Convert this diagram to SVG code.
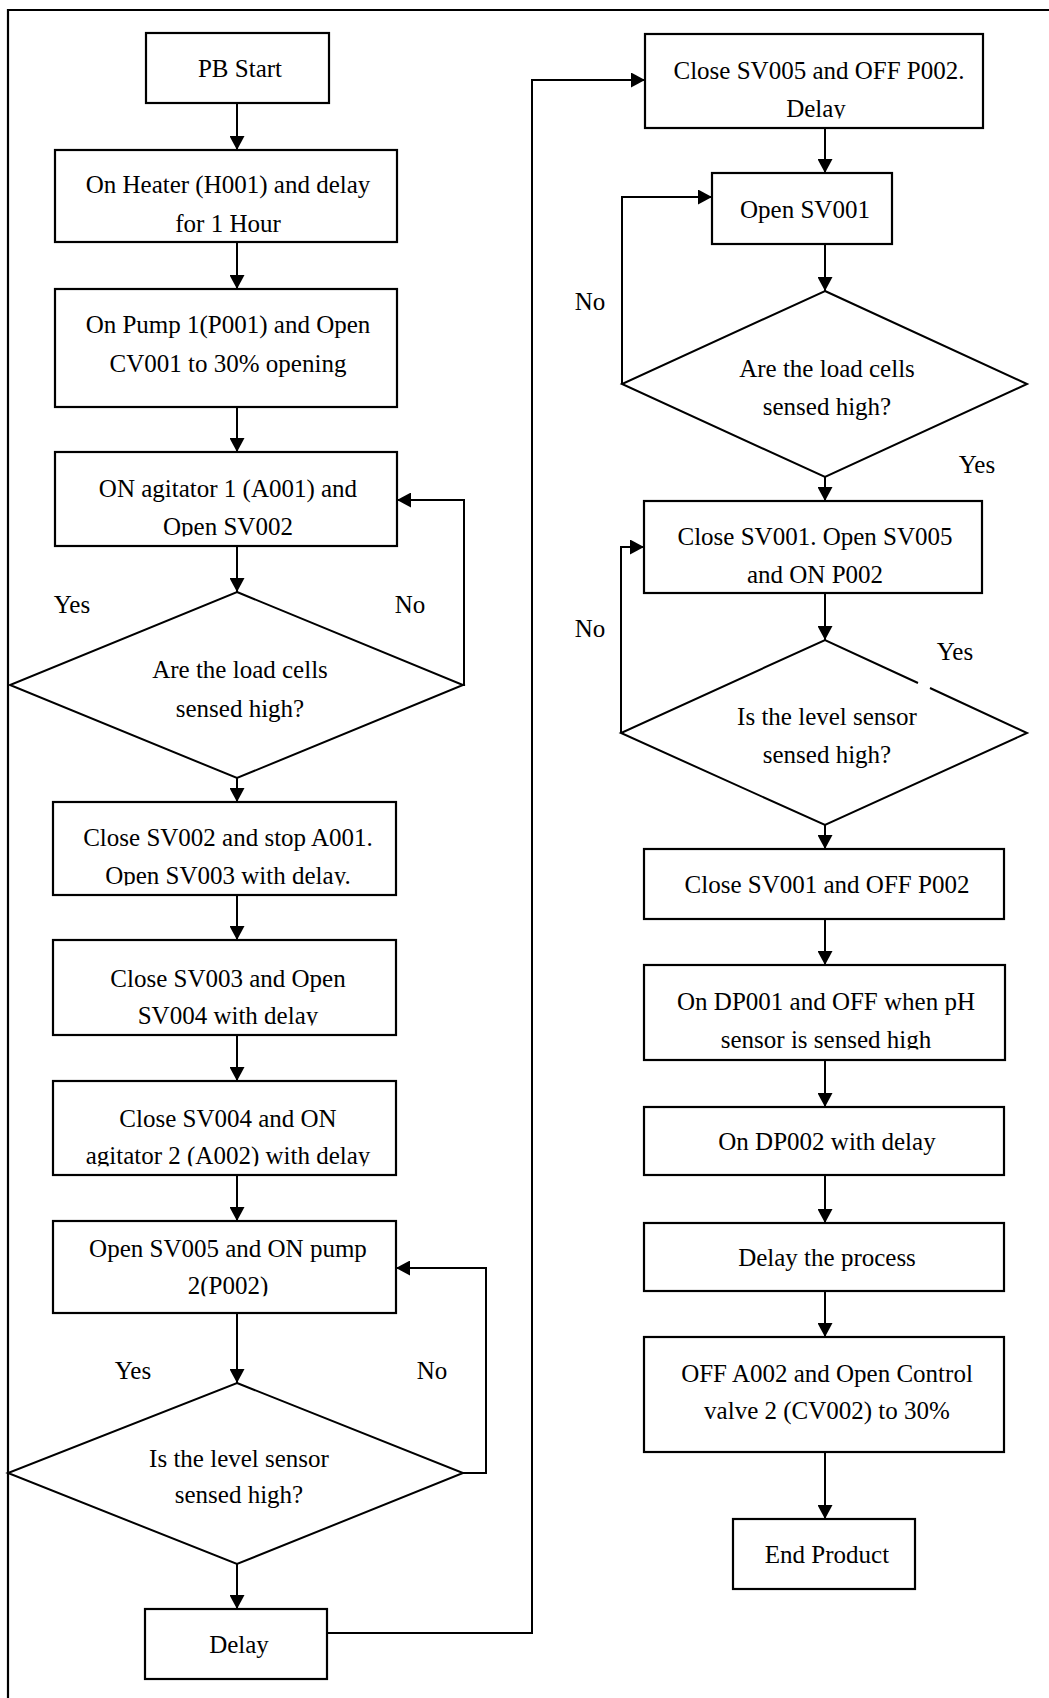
<svg xmlns="http://www.w3.org/2000/svg" width="1049" height="1698" viewBox="0 0 1049 1698">
  <style>
    .box { fill: #fff; stroke: #000; stroke-width: 2.2; }
    .dia { fill: none; stroke: #000; stroke-width: 2; stroke-linejoin: miter; }
    .wire { fill: none; stroke: #000; stroke-width: 2; }
    .frame { fill: none; stroke: #000; stroke-width: 2.2; }
    text { font-family: "Liberation Serif", "Times New Roman", serif; font-size: 25px; fill: #000; text-anchor: middle; }
  </style>
  <defs>
    <marker id="arrow" markerUnits="userSpaceOnUse" markerWidth="15" markerHeight="15" refX="14" refY="7.5" orient="auto">
      <path d="M0,0 L14,7.5 L0,15 z" fill="#000"/>
    </marker>
    <!-- trims descenders of lines that sit on a box's lower edge -->
    <clipPath id="cut" clipPathUnits="objectBoundingBox">
      <rect x="-0.1" y="0" width="1.2" height="0.87"/>
    </clipPath>
  </defs>

  <!-- page frame (top and left edges) -->
  <path class="frame" d="M8,1698 L8,10 L1049,10"/>

  <!-- connectors -->
  <g id="connectors">
    <!-- left column -->
    <line class="wire" x1="237" y1="103" x2="237" y2="150" marker-end="url(#arrow)"/>
    <line class="wire" x1="237" y1="242" x2="237" y2="289" marker-end="url(#arrow)"/>
    <line class="wire" x1="237" y1="407" x2="237" y2="452" marker-end="url(#arrow)"/>
    <line class="wire" x1="237" y1="546" x2="237" y2="592" marker-end="url(#arrow)"/>
    <line class="wire" x1="237" y1="778" x2="237" y2="802" marker-end="url(#arrow)"/>
    <line class="wire" x1="237" y1="895" x2="237" y2="940" marker-end="url(#arrow)"/>
    <line class="wire" x1="237" y1="1035" x2="237" y2="1081" marker-end="url(#arrow)"/>
    <line class="wire" x1="237" y1="1175" x2="237" y2="1221" marker-end="url(#arrow)"/>
    <line class="wire" x1="237" y1="1313" x2="237" y2="1383" marker-end="url(#arrow)"/>
    <line class="wire" x1="237" y1="1564" x2="237" y2="1609" marker-end="url(#arrow)"/>
    <polyline class="wire" points="463,685 464,685 464,500 397,500" marker-end="url(#arrow)"/>
    <polyline class="wire" points="463,1473 486,1473 486,1268 396,1268" marker-end="url(#arrow)"/>
    <!-- hand-over to right column -->
    <polyline class="wire" points="327,1633 532,1633 532,80 645,80" marker-end="url(#arrow)"/>
    <!-- right column -->
    <line class="wire" x1="825" y1="128" x2="825" y2="173" marker-end="url(#arrow)"/>
    <line class="wire" x1="825" y1="244" x2="825" y2="291" marker-end="url(#arrow)"/>
    <line class="wire" x1="825" y1="477" x2="825" y2="501" marker-end="url(#arrow)"/>
    <line class="wire" x1="825" y1="593" x2="825" y2="640" marker-end="url(#arrow)"/>
    <line class="wire" x1="825" y1="825" x2="825" y2="849" marker-end="url(#arrow)"/>
    <line class="wire" x1="825" y1="919" x2="825" y2="965" marker-end="url(#arrow)"/>
    <line class="wire" x1="825" y1="1060" x2="825" y2="1107" marker-end="url(#arrow)"/>
    <line class="wire" x1="825" y1="1175" x2="825" y2="1223" marker-end="url(#arrow)"/>
    <line class="wire" x1="825" y1="1291" x2="825" y2="1337" marker-end="url(#arrow)"/>
    <line class="wire" x1="825" y1="1452" x2="825" y2="1519" marker-end="url(#arrow)"/>
    <polyline class="wire" points="622,384 622,197 712,197" marker-end="url(#arrow)"/>
    <polyline class="wire" points="621,733 621,547 644,547" marker-end="url(#arrow)"/>
  </g>

  <!-- branch labels -->
  <g id="labels">
    <text x="72" y="613">Yes</text>
    <text x="410" y="613">No</text>
    <text x="590" y="310">No</text>
    <text x="977" y="473">Yes</text>
    <text x="590" y="637">No</text>
    <text x="955" y="660">Yes</text>
    <text x="133" y="1379">Yes</text>
    <text x="432" y="1379">No</text>
  </g>

  <!-- left column nodes -->
  <g id="pb-start">
    <rect class="box" x="146" y="33" width="183" height="70"/>
    <text x="240" y="77">PB Start</text>
  </g>
  <g id="heater">
    <rect class="box" x="55" y="150" width="342" height="92"/>
    <text x="228" y="193">On Heater (H001) and delay</text>
    <text x="228" y="232">for 1 Hour</text>
  </g>
  <g id="pump1">
    <rect class="box" x="55" y="289" width="342" height="118"/>
    <text x="228" y="333">On Pump 1(P001) and Open</text>
    <text x="228" y="372">CV001 to 30% opening</text>
  </g>
  <g id="agitator1">
    <rect class="box" x="55" y="452" width="342" height="94"/>
    <text x="228" y="497">ON agitator 1 (A001) and</text>
    <text x="228" y="535" clip-path="url(#cut)">Open SV002</text>
  </g>
  <g id="check-load-1">
    <polygon class="dia" points="237,592 463,685 237,778 10,685"/>
    <text x="240" y="678">Are the load cells</text>
    <text x="240" y="717">sensed high?</text>
  </g>
  <g id="close-sv002">
    <rect class="box" x="53" y="802" width="343" height="93"/>
    <text x="228" y="846">Close SV002 and stop A001.</text>
    <text x="228" y="884" clip-path="url(#cut)">Open SV003 with delay.</text>
  </g>
  <g id="close-sv003">
    <rect class="box" x="53" y="940" width="343" height="95"/>
    <text x="228" y="987">Close SV003 and Open</text>
    <text x="228" y="1024" clip-path="url(#cut)">SV004 with delay</text>
  </g>
  <g id="close-sv004">
    <rect class="box" x="53" y="1081" width="343" height="94"/>
    <text x="228" y="1127">Close SV004 and ON</text>
    <text x="228" y="1164" clip-path="url(#cut)">agitator 2 (A002) with delay</text>
  </g>
  <g id="open-sv005">
    <rect class="box" x="53" y="1221" width="343" height="92"/>
    <text x="228" y="1257">Open SV005 and ON pump</text>
    <text x="228" y="1294" clip-path="url(#cut)">2(P002)</text>
  </g>
  <g id="check-level-1">
    <polygon class="dia" points="237,1383 463,1473 237,1564 8,1473"/>
    <text x="239" y="1467">Is the level sensor</text>
    <text x="239" y="1503">sensed high?</text>
  </g>
  <g id="delay">
    <rect class="box" x="145" y="1609" width="182" height="70"/>
    <text x="239" y="1653">Delay</text>
  </g>

  <!-- right column nodes -->
  <g id="close-sv005">
    <rect class="box" x="645" y="34" width="338" height="94"/>
    <text x="819" y="79">Close SV005 and OFF P002.</text>
    <text x="816" y="117" clip-path="url(#cut)">Delay</text>
  </g>
  <g id="open-sv001">
    <rect class="box" x="712" y="173" width="180" height="71"/>
    <text x="805" y="218">Open SV001</text>
  </g>
  <g id="check-load-2">
    <polygon class="dia" points="825,291 1027,384 825,477 622,384"/>
    <text x="827" y="377">Are the load cells</text>
    <text x="827" y="415">sensed high?</text>
  </g>
  <g id="close-sv001-open-sv005">
    <rect class="box" x="644" y="501" width="338" height="92"/>
    <text x="815" y="545">Close SV001. Open SV005</text>
    <text x="815" y="583">and ON P002</text>
  </g>
  <g id="check-level-2">
    <path class="dia" d="M918,683 L825,640 L621,733 L825,825 L1027,733 L930,688"/>
    <text x="827" y="725">Is the level sensor</text>
    <text x="827" y="763">sensed high?</text>
  </g>
  <g id="close-sv001-off-p002">
    <rect class="box" x="644" y="849" width="360" height="70"/>
    <text x="827" y="893">Close SV001 and OFF P002</text>
  </g>
  <g id="dp001">
    <rect class="box" x="644" y="965" width="361" height="95"/>
    <text x="826" y="1010">On DP001 and OFF when pH</text>
    <text x="826" y="1048" clip-path="url(#cut)">sensor is sensed high</text>
  </g>
  <g id="dp002">
    <rect class="box" x="644" y="1107" width="360" height="68"/>
    <text x="827" y="1150">On DP002 with delay</text>
  </g>
  <g id="delay-process">
    <rect class="box" x="644" y="1223" width="360" height="68"/>
    <text x="827" y="1266">Delay the process</text>
  </g>
  <g id="off-a002">
    <rect class="box" x="644" y="1337" width="360" height="115"/>
    <text x="827" y="1382">OFF A002 and Open Control</text>
    <text x="827" y="1419">valve 2 (CV002) to 30%</text>
  </g>
  <g id="end-product">
    <rect class="box" x="733" y="1519" width="182" height="70"/>
    <text x="827" y="1563">End Product</text>
  </g>
</svg>
